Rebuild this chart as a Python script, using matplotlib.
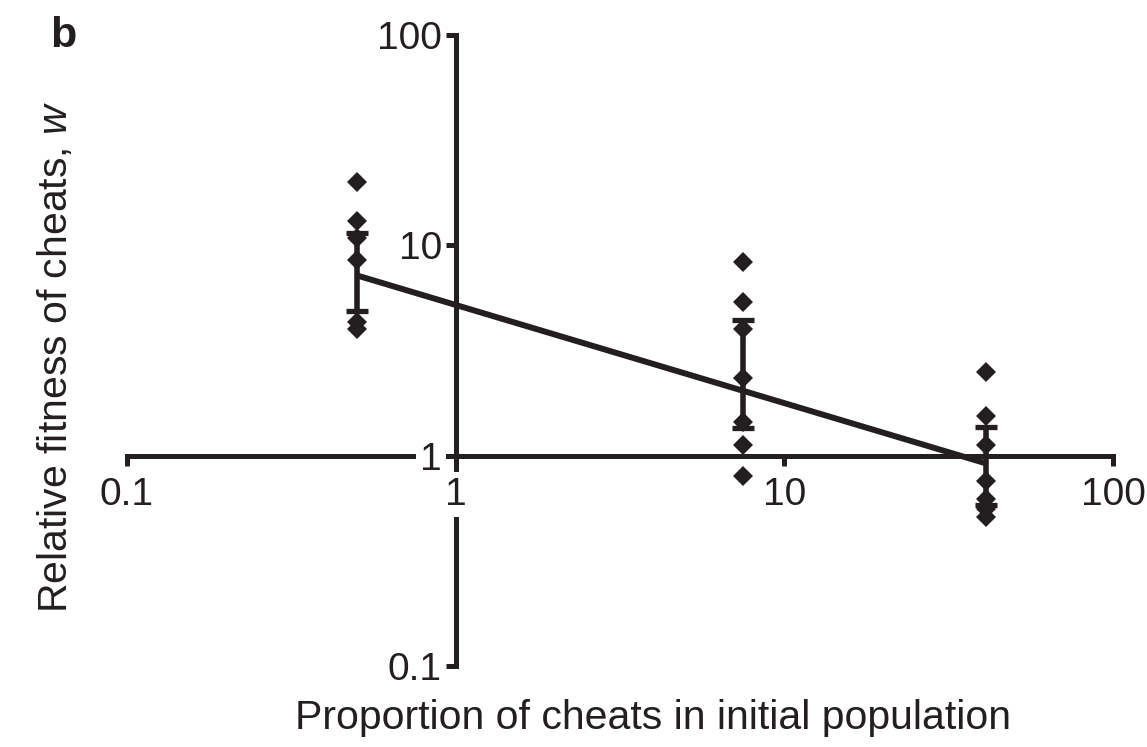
import matplotlib
matplotlib.use("Agg")
import matplotlib.pyplot as plt
from matplotlib.ticker import NullLocator

# starting proportion of cheats (%)
proportion = [0.5, 7.5, 41]

# replicate fitness values at each starting proportion
fitness_05 = [20.0, 13.0, 10.8, 8.5, 4.3, 4.0]
fitness_75 = [8.3, 5.4, 4.0, 2.35, 1.45, 1.12, 0.80]
fitness_41 = [2.5, 1.55, 1.13, 0.76, 0.62, 0.56, 0.51]

# group centre and error bar limits
centre = [7.2, 2.05, 0.9]
upper = [11.5, 4.4, 1.37]
lower = [4.85, 1.36, 0.585]

# regression line end points
fit_x = [0.5, 41]
fit_y = [7.2, 0.92]

ticks = [0.1, 1, 10, 100]
tick_labels = ["0.1", "1", "10", "100"]

plt.rcParams["font.family"] = ["Liberation Sans", "DejaVu Sans"]
plt.rcParams["mathtext.fontset"] = "custom"
plt.rcParams["mathtext.it"] = "Liberation Sans:italic"
plt.rcParams["mathtext.rm"] = "Liberation Sans"

ink = "#231f20"

fig = plt.figure(figsize=(11.47, 7.47), dpi=100)
ax = fig.add_axes([0.1107, 0.1084, 0.8597, 0.8447])
ax.set_xscale("log")
ax.set_yscale("log")
ax.set_xlim(0.1, 100)
ax.set_ylim(0.1, 100)

for x, ys in zip(proportion, [fitness_05, fitness_75, fitness_41]):
    ax.plot([x] * len(ys), ys, linestyle="none", marker="D", markersize=10,
            color=ink, markeredgewidth=0, zorder=3)

yerr = [[c - l for c, l in zip(centre, lower)],
        [u - c for c, u in zip(centre, upper)]]
ax.errorbar(proportion, centre, yerr=yerr, fmt="none", ecolor=ink,
            elinewidth=4, capsize=8, capthick=3.8, zorder=4)
ax.plot(fit_x, fit_y, color=ink, linewidth=4.3, solid_capstyle="butt", zorder=5)

# axes cross at (1, 1)
ax.spines["top"].set_visible(False)
ax.spines["right"].set_visible(False)
for side in ["left", "bottom"]:
    ax.spines[side].set_position(("data", 1))
    ax.spines[side].set_linewidth(3.6)
    ax.spines[side].set_color(ink)
    ax.spines[side].set_zorder(1)

ax.set_xticks(ticks, tick_labels)
ax.set_yticks(ticks, tick_labels)
ax.xaxis.set_minor_locator(NullLocator())
ax.yaxis.set_minor_locator(NullLocator())
ax.tick_params(direction="out", length=7, width=3.6, color=ink,
               labelsize=28, labelcolor=ink)
ax.tick_params(axis="x", pad=8)
ax.tick_params(axis="y", pad=3)

for lab in ax.get_xticklabels() + ax.get_yticklabels():
    if lab.get_text() == "1":
        lab.set_bbox(dict(facecolor="white", edgecolor="none", pad=3))

ax.set_xlabel("Proportion of cheats in initial population", fontsize=29.5, color=ink)
ax.xaxis.set_label_coords(0.533, -0.052)
ax.set_ylabel("Relative fitness of cheats, $\\it{w}$", fontsize=29.5, color=ink)
ax.yaxis.set_label_coords(-0.053, 0.49)

fig.text(0.0436, 0.937, "b", fontsize=31, fontweight="bold", color=ink)

fig.savefig("out.png", dpi=100)
